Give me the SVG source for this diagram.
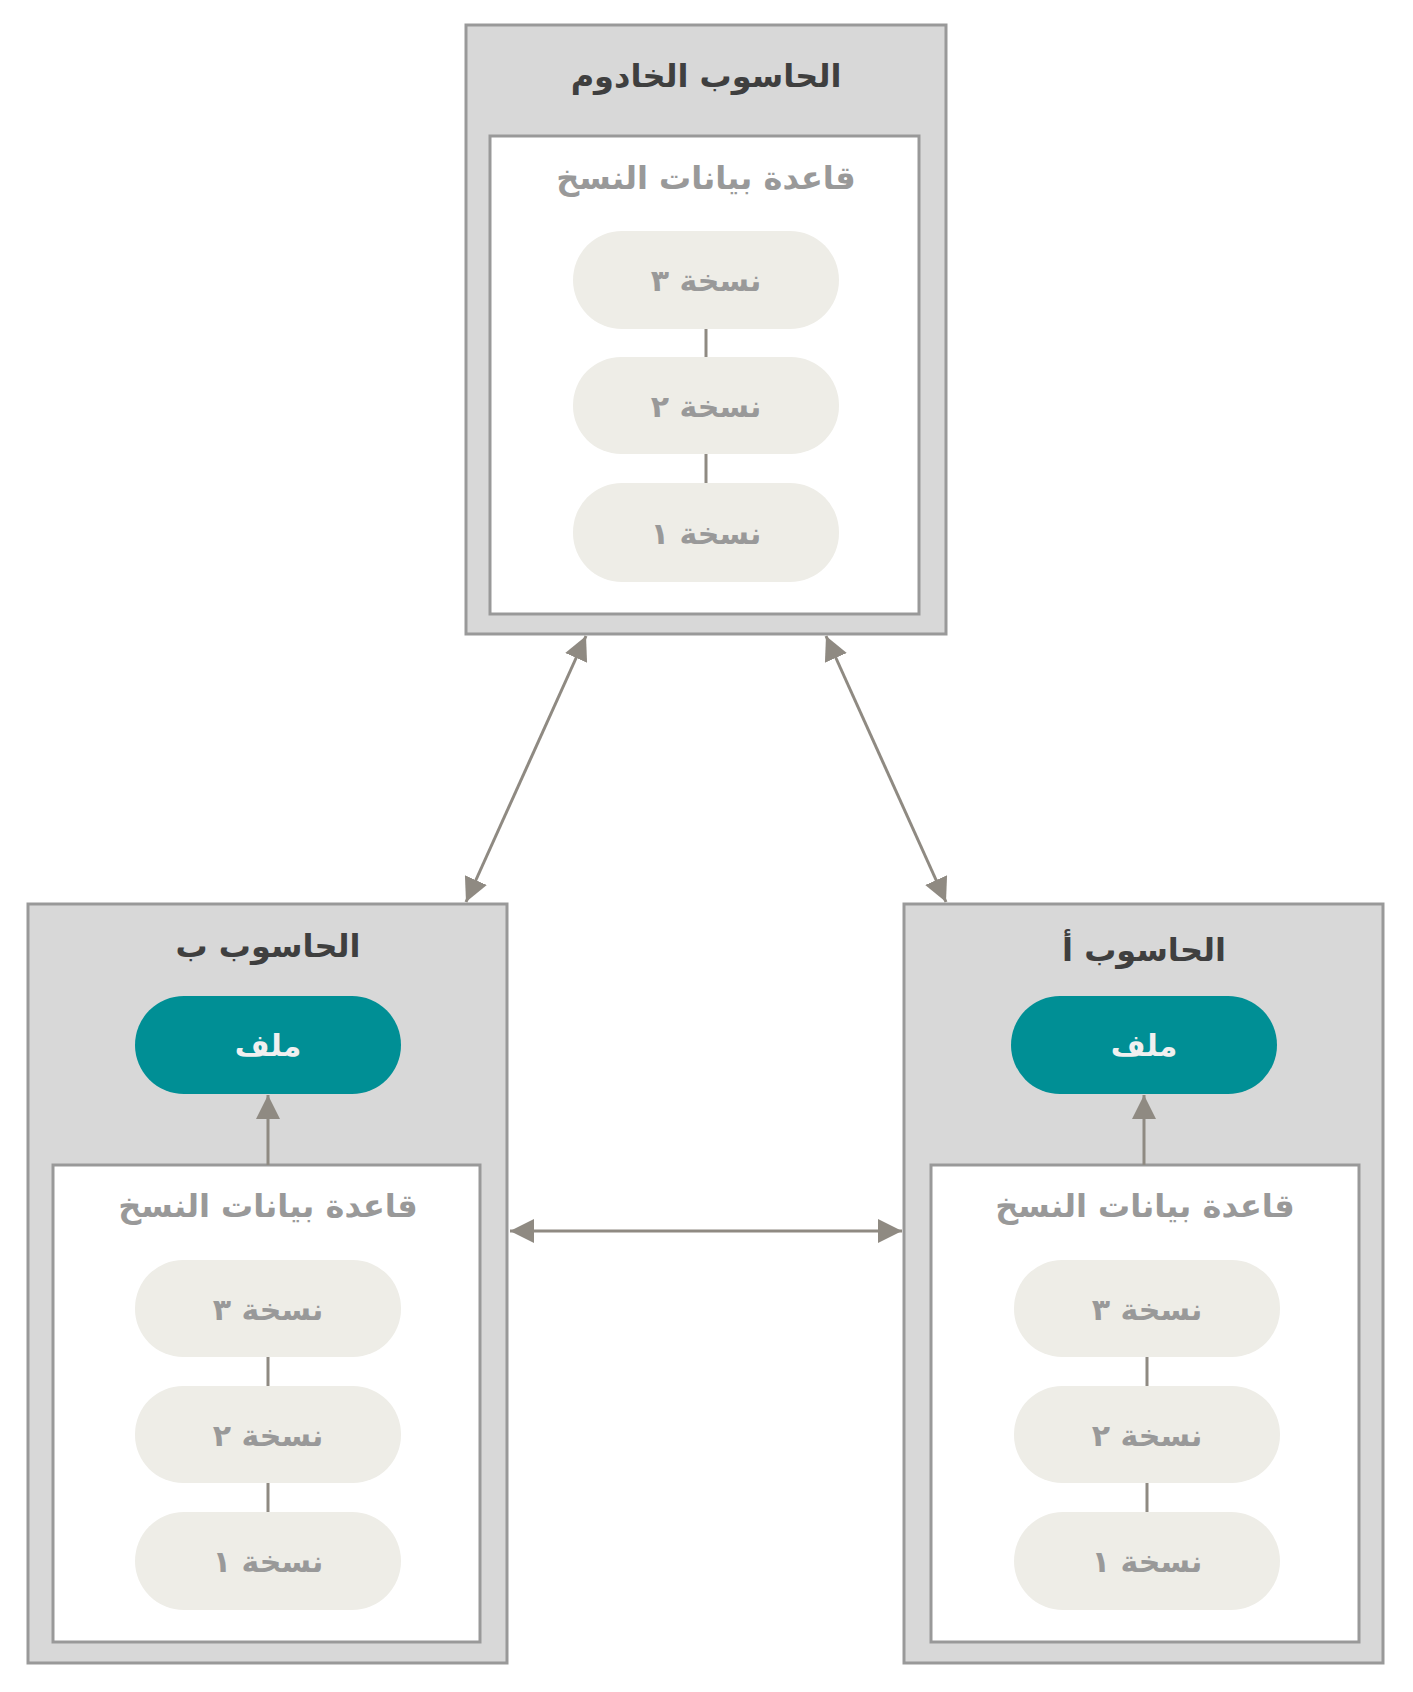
<svg xmlns="http://www.w3.org/2000/svg" width="1413" height="1692" viewBox="0 0 1413 1692">
<defs>
<style>
.outer{fill:#d8d8d8;stroke:#999;stroke-width:3}
.inner{fill:#fff;stroke:#999;stroke-width:3}
.pill{fill:#eeede7}
.file{fill:#008f95}
text{font-family:"DejaVu Sans","Noto Sans",sans-serif;font-weight:bold;text-anchor:middle;dominant-baseline:central}
.t1{font-size:32px;fill:#3f3f3f}
.t2{font-size:32px;fill:#999}
.tp{font-size:30px;fill:#999}
.tf{font-size:30px;fill:#f0f0f0}
.ln{stroke:#8f8a82;stroke-width:3;fill:none}
</style>
<marker id="ah" viewBox="0 0 10 10" refX="10" refY="5" markerWidth="8" markerHeight="8" markerUnits="userSpaceOnUse" orient="auto-start-reverse" style="overflow:visible">
<path d="M0,0 L10,5 L0,10 z" fill="#8f8a82" transform="scale(1)"/>
</marker>
<marker id="a2" viewBox="0 0 24 24" refX="24" refY="12" markerWidth="24" markerHeight="24" markerUnits="userSpaceOnUse" orient="auto-start-reverse">
<path d="M0,0 L24,12 L0,24 z" fill="#8f8a82"/>
</marker>
</defs>
<g id="server">
<rect class="outer" x="466" y="25" width="480" height="609"/>
<text class="t1" x="706" y="76">الحاسوب الخادوم</text>
<rect class="inner" x="490" y="136" width="429" height="478"/>
<text class="t2" x="706" y="178">قاعدة بيانات النسخ</text>
<line class="ln" x1="706" y1="329" x2="706" y2="357" stroke-width="2"/>
<line class="ln" x1="706" y1="454" x2="706" y2="483" stroke-width="2"/>
<rect class="pill" x="573" y="231" width="266" height="98" rx="49"/>
<text class="tp" x="706" y="280">نسخة ٣</text>
<rect class="pill" x="573" y="357" width="266" height="97" rx="48"/>
<text class="tp" x="706" y="406">نسخة ٢</text>
<rect class="pill" x="573" y="483" width="266" height="99" rx="49"/>
<text class="tp" x="706" y="533">نسخة ١</text>
</g>
<g id="computerB">
<rect class="outer" x="28" y="904" width="479" height="759"/>
<text class="t1" x="268" y="946">الحاسوب ب</text>
<rect class="file" x="135" y="996" width="266" height="98" rx="49"/>
<text class="tf" x="268" y="1045">ملف</text>
<rect class="inner" x="53" y="1165" width="427" height="477"/>
<text class="t2" x="268" y="1206">قاعدة بيانات النسخ</text>
<line class="ln" x1="268" y1="1357" x2="268" y2="1386" stroke-width="2"/>
<line class="ln" x1="268" y1="1483" x2="268" y2="1512" stroke-width="2"/>
<rect class="pill" x="135" y="1260" width="266" height="97" rx="48"/>
<text class="tp" x="268" y="1309">نسخة ٣</text>
<rect class="pill" x="135" y="1386" width="266" height="97" rx="48"/>
<text class="tp" x="268" y="1435">نسخة ٢</text>
<rect class="pill" x="135" y="1512" width="266" height="98" rx="49"/>
<text class="tp" x="268" y="1561">نسخة ١</text>
</g>
<g id="computerA">
<rect class="outer" x="904" y="904" width="479" height="759"/>
<text class="t1" x="1144" y="950">الحاسوب أ</text>
<rect class="file" x="1011" y="996" width="266" height="98" rx="49"/>
<text class="tf" x="1144" y="1045">ملف</text>
<rect class="inner" x="931" y="1165" width="428" height="477"/>
<text class="t2" x="1145" y="1206">قاعدة بيانات النسخ</text>
<line class="ln" x1="1147" y1="1357" x2="1147" y2="1386" stroke-width="2"/>
<line class="ln" x1="1147" y1="1483" x2="1147" y2="1512" stroke-width="2"/>
<rect class="pill" x="1014" y="1260" width="266" height="97" rx="48"/>
<text class="tp" x="1147" y="1309">نسخة ٣</text>
<rect class="pill" x="1014" y="1386" width="266" height="97" rx="48"/>
<text class="tp" x="1147" y="1435">نسخة ٢</text>
<rect class="pill" x="1014" y="1512" width="266" height="98" rx="49"/>
<text class="tp" x="1147" y="1561">نسخة ١</text>
</g>
<g id="connectors">
<line class="ln" x1="586" y1="636" x2="466" y2="902" marker-start="url(#a2)" marker-end="url(#a2)"/>
<line class="ln" x1="826" y1="636" x2="946" y2="902" marker-start="url(#a2)" marker-end="url(#a2)"/>
<line class="ln" x1="510" y1="1231" x2="902" y2="1231" marker-start="url(#a2)" marker-end="url(#a2)"/>
<line class="ln" x1="268" y1="1165" x2="268" y2="1095" marker-end="url(#a2)"/>
<line class="ln" x1="1144" y1="1165" x2="1144" y2="1095" marker-end="url(#a2)"/>
</g>
</svg>
